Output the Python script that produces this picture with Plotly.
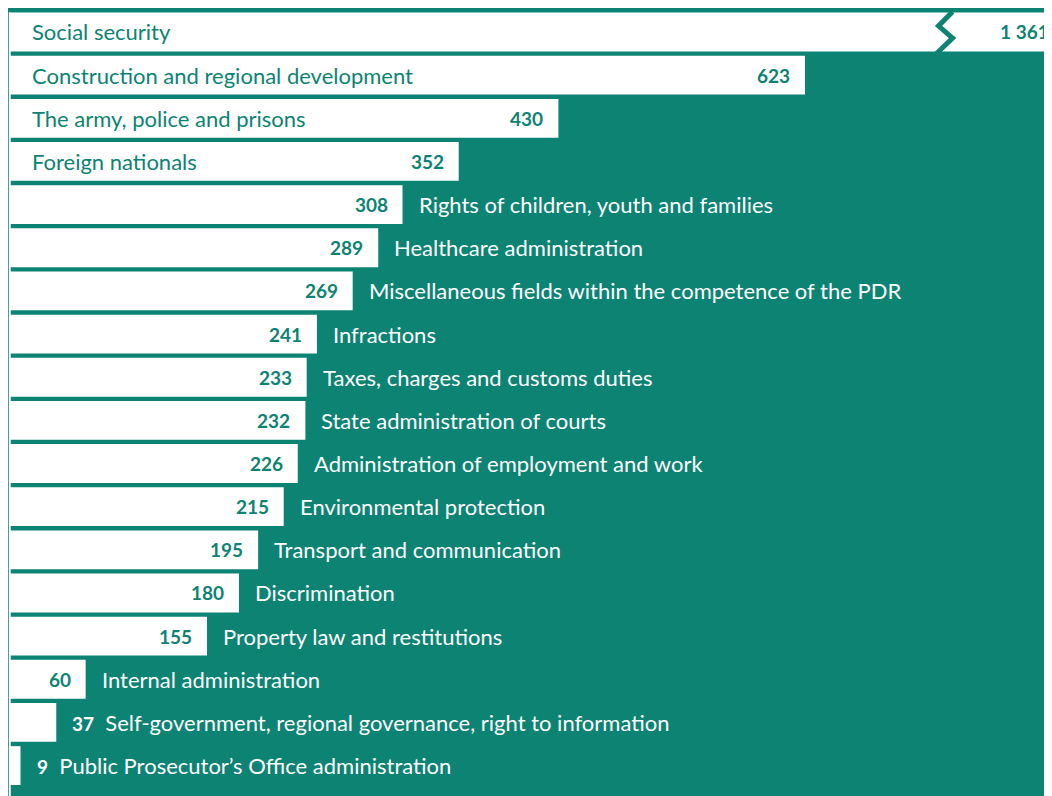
import plotly.graph_objects as go

# ---- data ----
categories = [
    "Social security",
    "Construction and regional development",
    "The army, police and prisons",
    "Foreign nationals",
    "Rights of children, youth and families",
    "Healthcare administration",
    "Miscellaneous fields within the competence of the PDR",
    "Infractions",
    "Taxes, charges and customs duties",
    "State administration of courts",
    "Administration of employment and work",
    "Environmental protection",
    "Transport and communication",
    "Discrimination",
    "Property law and restitutions",
    "Internal administration",
    "Self-government, regional governance, right to information",
    "Public Prosecutor\u2019s Office administration",
]
values = [1361, 623, 430, 352, 308, 289, 269, 241, 233, 232, 226, 215, 195, 180, 155, 60, 37, 9]
value_labels = ["1\u202f361", "623", "430", "352", "308", "289", "269", "241", "233", "232",
                "226", "215", "195", "180", "155", "60", "37", "9"]

# ---- style ----
TEAL = "#0C8373"
WHITE = "#FFFFFF"
FONT = "Lato"
W, H = 1052, 796
X_MIN, X_MAX = -0.78, 822.6
X_VISIBLE_END = 816.3   # right window edge in data units (page has an 8px offset)
Y_TOP, Y_BOT = -0.556, 17.89
BREAK_AT = 733          # where the long bar is visually broken
INSIDE_NAME_MIN = 352   # bars at least this long hold their name inside
INSIDE_NUM_MIN = 60     # bars at least this long hold their number inside

shown = [min(v, X_MAX * 1.2) for v in values]

fig = go.Figure()
fig.add_trace(go.Bar(
    x=shown, y=categories, orientation="h",
    marker=dict(color=WHITE, line=dict(width=0)),
    width=0.9, hoverinfo="skip",
))

NAME_SIZE = 22
NUM_SIZE = 19
ann = []
for cat, v, lab in zip(categories, values, value_labels):
    if v > X_VISIBLE_END:
        ann.append(dict(x=X_VISIBLE_END, y=cat, text=f"<b>{lab}</b>",
                        xanchor="right", xshift=-1, showarrow=False,
                        font=dict(family=FONT, size=NUM_SIZE, color=TEAL)))
    else:
        if v >= INSIDE_NUM_MIN:
            ann.append(dict(x=v, y=cat, text=f"<b>{lab}</b>", xanchor="right", xshift=-13,
                            showarrow=False, font=dict(family=FONT, size=NUM_SIZE, color=TEAL)))
    if v >= INSIDE_NAME_MIN:
        ann.append(dict(x=0, y=cat, text=cat, xanchor="left", xshift=21, showarrow=False,
                        font=dict(family=FONT, size=NAME_SIZE, color=TEAL)))
    elif v >= INSIDE_NUM_MIN:
        ann.append(dict(x=v, y=cat, text=cat, xanchor="left", xshift=14, showarrow=False,
                        font=dict(family=FONT, size=NAME_SIZE, color=WHITE)))
    else:
        ann.append(dict(x=v, y=cat,
                        text=f"<b><span style='font-size:{NUM_SIZE}px'>{lab}</span></b>&nbsp;&nbsp;{cat}",
                        xanchor="left", xshift=14, showarrow=False,
                        font=dict(family=FONT, size=NAME_SIZE, color=WHITE)))

# broken-bar zigzag on the first bar
zx = [BREAK_AT + 5.5, BREAK_AT - 5.5, BREAK_AT + 5.5, BREAK_AT - 7.0]
zy = [-0.47, -0.14, 0.14, 0.5]
path = "M " + " L ".join(f"{a},{b}" for a, b in zip(zx, zy))

shapes = [
    dict(type="line", xref="x", yref="y", x0=0.6, x1=0.6, y0=-0.45, y1=Y_BOT,
         line=dict(color=WHITE, width=2), layer="below"),
    dict(type="path", xref="x", yref="y", path=path,
         line=dict(color=TEAL, width=5)),
]

fig.update_layout(
    width=W, height=H,
    paper_bgcolor=TEAL, plot_bgcolor=TEAL,
    margin=dict(l=0, r=0, t=0, b=0),
    showlegend=False, bargap=0.1,
    xaxis=dict(range=[X_MIN, X_MAX], visible=False, fixedrange=True),
    yaxis=dict(range=[Y_BOT, Y_TOP], visible=False, type="category",
               categoryorder="array", categoryarray=categories, fixedrange=True),
    annotations=ann, shapes=shapes,
    font=dict(family=FONT),
)

fig.write_html("out.html", config={"displayModeBar": False})
